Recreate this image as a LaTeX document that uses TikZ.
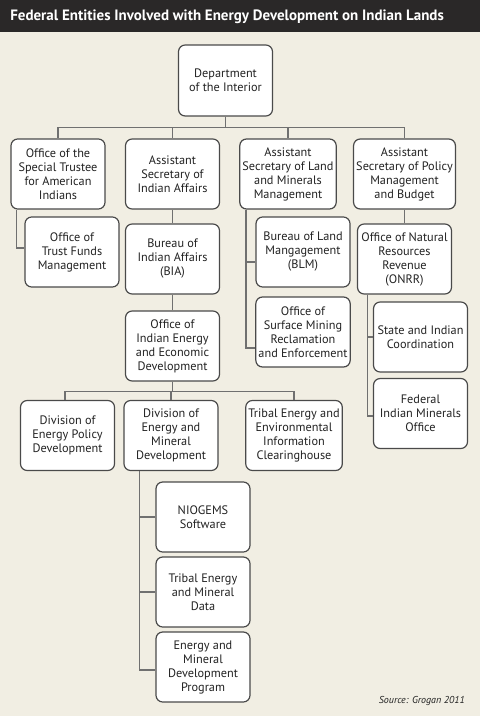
\documentclass[tikz,border=0pt]{standalone}
\usepackage{fontspec}
\setmainfont{PT Sans}
\definecolor{bg}{HTML}{F1EEE3}
\definecolor{bar}{HTML}{2A2828}
\definecolor{edge}{HTML}{4A4A4A}
\definecolor{conn}{HTML}{707070}
\definecolor{txt}{HTML}{222222}
\tikzset{
  box/.style={draw=edge, fill=white, line width=0.9pt, rounded corners=5pt,
    minimum width=70.5pt, minimum height=52.5pt, align=center, inner sep=2pt,
    text=txt, font=\fontsize{9.2}{10.5}\selectfont},
  link/.style={draw=conn, line width=1.1pt}
}
\begin{document}
\begin{tikzpicture}[x=0.75pt,y=-0.75pt]
\fill[bg] (0,0) rectangle (480,716);
\useasboundingbox (0,0) rectangle (480,716);
\fill[bar] (0,0) rectangle (480,32);
\node[anchor=west, text=white, font=\fontsize{11.25}{13}\selectfont\bfseries, inner sep=0pt] (title) at (10,16.5) {Federal Entities Involved with Energy Development on Indian Lands};

\node[box, minimum height=53.25pt] (dept) at (225.5,80.5) {Department\\of the Interior};
\node[box] (ost) at (58,174) {Office of the\\Special Trustee\\for American\\Indians};
\node[box] (asia) at (172.5,174) {Assistant\\Secretary of\\Indian Affairs};
\node[box] (aslm) at (288,174) {Assistant\\Secretary of Land\\and Minerals\\Management};
\node[box] (aspm) at (404.5,174) {Assistant\\Secretary of Policy\\Management\\and Budget};
\node[box] (otfm) at (72,252) {Office of\\Trust Funds\\Management};
\node[box] (bia) at (172.5,259) {Bureau of\\Indian Affairs\\(BIA)};
\node[box] (blm) at (303,252) {Bureau of Land\\Mangagement\\(BLM)};
\node[box] (onrr) at (404.5,259) {Office of Natural\\Resources\\Revenue\\(ONRR)};
\node[box] (oiee) at (172.5,346) {Office of\\Indian Energy\\and Economic\\Development};
\node[box] (osm) at (303,332) {Office of\\Surface Mining\\Reclamation\\and Enforcement};
\node[box] (sic) at (420.5,337) {State and Indian\\Coordination};
\node[box] (fimo) at (420.5,413.5) {Federal\\Indian Minerals\\Office};
\node[box] (dep) at (67.5,435.5) {Division of\\Energy Policy\\Development};
\node[box] (demd) at (171,435.5) {Division of\\Energy and\\Mineral\\Development};
\node[box] (teeic) at (294,435.5) {Tribal Energy and\\Environmental\\Information\\Clearinghouse};
\node[box] (nio) at (203,517) {NIOGEMS\\Software};
\node[box] (temd) at (203,592) {Tribal Energy\\and Mineral\\Data};
\node[box] (emdp) at (203,667) {Energy and\\Mineral\\Development\\Program};

\node[anchor=east, text=txt, font=\fontsize{7.5}{9}\selectfont\itshape, inner sep=0pt] (src) at (465,701) {Source: Grogan 2011};

% connectors
\draw[link] (dept.south) -- +(0,11) -| (ost.north);
\draw[link] (dept.south) -- +(0,11) -| (asia.north);
\draw[link] (dept.south) -- +(0,11) -| (aslm.north);
\draw[link] (dept.south) -- +(0,11) -| (aspm.north);
\draw[link] ([xshift=4.5pt]ost.south west) |- ([yshift=3pt]otfm.west);
\draw[link] (asia.south) -- (bia.north);
\draw[link] (bia.south) -- (oiee.north);
\draw[link] ([xshift=5.25pt]aslm.south west) |- ([yshift=-7.5pt]blm.west);
\draw[link] ([xshift=5.25pt]aslm.south west) |- ([yshift=-12pt]osm.west);
\draw[link] (aspm.south) -- (onrr.north);
\draw[link] ([xshift=8pt]onrr.south west) |- (sic.west);
\draw[link] ([xshift=8pt]onrr.south west) |- ([yshift=-2pt]fimo.west);
\draw[link] (oiee.south) -- +(0,10) -| ([xshift=-2pt]dep.north);
\draw[link] (oiee.south) -- +(0,10) -| (demd.north);
\draw[link] (oiee.south) -- +(0,10) -| (teeic.north);
\draw[link] ([xshift=12pt]demd.south west) |- (nio.west);
\draw[link] ([xshift=12pt]demd.south west) |- (temd.west);
\draw[link] ([xshift=12pt]demd.south west) |- ([yshift=-2.25pt]emdp.west);
\end{tikzpicture}
\end{document}
